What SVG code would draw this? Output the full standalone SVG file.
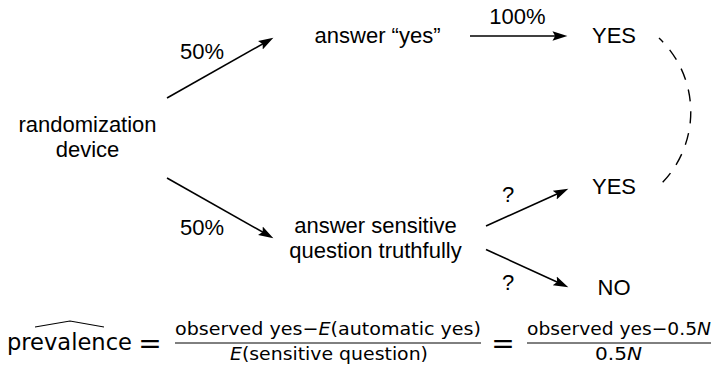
<svg xmlns="http://www.w3.org/2000/svg" width="713" height="366" viewBox="0 0 713 366">
<style>
.t{font-family:"Liberation Sans",Arial,sans-serif;font-size:22px;fill:#000;text-anchor:middle}
.m{font-family:"DejaVu Sans",sans-serif;fill:#000}
.c{stroke:#000;stroke-width:1.6;fill:none}
.d{stroke:#000;stroke-width:1.4;fill:none;stroke-dasharray:12 10;stroke-dashoffset:6}
</style>
<defs>
<marker id="ah" markerUnits="userSpaceOnUse" markerWidth="16" markerHeight="12" refX="8" refY="4.5" orient="auto" viewBox="0 0 15 9">
<path d="M0,0 L14,4.5 L0,9 L2.5,4.5 Z" fill="#000"/>
</marker>
</defs>
<rect width="713" height="366" fill="#fff"/>
<g id="connectors">
<line class="c" x1="167" y1="98" x2="267.8" y2="41" marker-end="url(#ah)"/>
<line class="c" x1="167" y1="178" x2="267.8" y2="235" marker-end="url(#ah)"/>
<line class="c" x1="470" y1="36" x2="561" y2="36" marker-end="url(#ah)"/>
<line class="c" x1="486" y1="226" x2="562.5" y2="191.5" marker-end="url(#ah)"/>
<line class="c" x1="486" y1="249.5" x2="562.5" y2="284.5" marker-end="url(#ah)"/>
<path class="d" d="M 659 38 A 102 102 0 0 1 660 185"/>
<text class="t" x="202" y="59">50%</text>
<text class="t" x="202" y="235">50%</text>
<text class="t" x="517.5" y="24">100%</text>
<text class="t" x="508" y="202">?</text>
<text class="t" x="508" y="290">?</text>
</g>
<g id="randomization">
<text class="t" x="87.5" y="132">randomization</text>
<text class="t" x="87.5" y="157">device</text>
</g>
<g id="answer-yes">
<text class="t" x="377.5" y="43">answer “yes”</text>
</g>
<g id="answer-sensitive">
<text class="t" x="375.5" y="233">answer sensitive</text>
<text class="t" x="375.5" y="258">question truthfully</text>
</g>
<g id="yes-top"><text class="t" x="614" y="43">YES</text></g>
<g id="yes-bottom"><text class="t" x="614" y="194">YES</text></g>
<g id="no"><text class="t" x="614" y="295">NO</text></g>
<g id="formula">
<path d="M 35 327 L 70 321 L 104 327" stroke="#000" stroke-width="1.1" fill="none"/>
<text class="m" x="7" y="350" font-size="22.5" textLength="125" lengthAdjust="spacingAndGlyphs">prevalence</text>
<text class="m" x="150" y="352.5" font-size="28" text-anchor="middle">=</text>
<text class="m" x="175" y="335" font-size="18" textLength="306" lengthAdjust="spacingAndGlyphs">observed yes−<tspan font-style="italic">E</tspan>(automatic yes)</text>
<line x1="175" y1="343" x2="481" y2="343" stroke="#000" stroke-width="1"/>
<text class="m" x="230" y="360" font-size="18" textLength="198" lengthAdjust="spacingAndGlyphs"><tspan font-style="italic">E</tspan>(sensitive question)</text>
<text class="m" x="503" y="352.5" font-size="28" text-anchor="middle">=</text>
<text class="m" x="527" y="335" font-size="18" textLength="184" lengthAdjust="spacingAndGlyphs">observed yes−0.5<tspan font-style="italic">N</tspan></text>
<line x1="527" y1="343" x2="711" y2="343" stroke="#000" stroke-width="1"/>
<text class="m" x="595" y="360" font-size="18" textLength="47" lengthAdjust="spacingAndGlyphs">0.5<tspan font-style="italic">N</tspan></text>
</g>
</svg>
